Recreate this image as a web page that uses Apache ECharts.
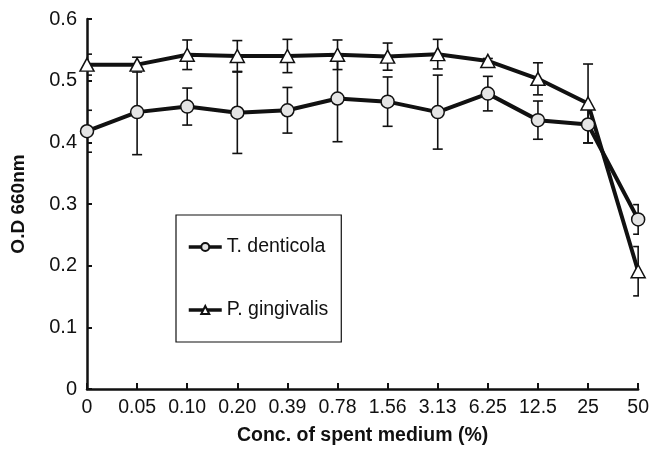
<!DOCTYPE html>
<html>
<head>
<meta charset="utf-8">
<script src="https://cdn.jsdelivr.net/npm/echarts@6/dist/echarts.min.js"></script>
<style>html,body{margin:0;padding:0;background:#fff;}#c{width:652px;height:451px;}</style>
</head>
<body>
<div id="c"></div>
<script>
var categories = ['0','0.05','0.10','0.20','0.39','0.78','1.56','3.13','6.25','12.5','25','50'];
var tdMean = [0.418,0.449,0.458,0.448,0.452,0.471,0.466,0.449,0.479,0.436,0.429,0.275];
var tdErr  = [0.034,0.069,0.030,0.066,0.037,0.070,0.040,0.060,0.028,0.031,0.030,0.024];
var pgMean = [0.526,0.526,0.542,0.540,0.540,0.542,0.539,0.543,0.532,0.503,0.463,0.191];
var pgErr  = [0.017,0.012,0.024,0.025,0.027,0.024,0.022,0.024,0.004,0.026,0.064,0.040];
var yTicks = [0,0.1,0.2,0.3,0.4,0.5,0.6];

var FONT = 'Liberation Sans, Arial, sans-serif';

function errData(mean, err){
  return mean.map(function(m,i){ return [i, m - err[i], m + err[i]]; });
}
function errRender(params, api){
  var x = api.value(0);
  var lo = api.coord([x, api.value(1)]);
  var hi = api.coord([x, api.value(2)]);
  var w = 5;
  var st = {stroke:'#111', lineWidth:1.6, fill:null};
  return {
    type:'group',
    children:[
      {type:'line', shape:{x1:hi[0],y1:hi[1],x2:lo[0],y2:lo[1]}, style:st},
      {type:'line', shape:{x1:hi[0]-w,y1:hi[1],x2:hi[0]+w,y2:hi[1]}, style:st},
      {type:'line', shape:{x1:lo[0]-w,y1:lo[1],x2:lo[0]+w,y2:lo[1]}, style:st}
    ]
  };
}

var chart = echarts.init(document.getElementById('c'));
chart.setOption({
  animation:false,
  backgroundColor:'#fff',
  textStyle:{fontFamily:FONT},
  grid:{left:87, right:11, top:19, bottom:59, containLabel:false},
  legend:{
    orient:'vertical', left:176, top:215,
    padding:[22,13,22,11],
    borderColor:'#111', borderWidth:1.2,
    itemWidth:33, itemHeight:10, itemGap:43,
    lineStyle:{width:3.5, color:'#111'},
    textStyle:{fontFamily:FONT, fontSize:19.5, color:'#111', lineHeight:20},
    data:['T. denticola','P. gingivalis']
  },
  xAxis:{
    type:'category', data:categories, boundaryGap:false,
    axisLine:{lineStyle:{color:'#111', width:2.5}},
    axisTick:{inside:true, length:6, alignWithLabel:true, interval:0, lineStyle:{color:'#111', width:2}},
    axisLabel:{interval:0, fontSize:19.5, color:'#111', margin:9, fontFamily:FONT},
    splitLine:{show:false},
    name:'Conc. of spent medium (%)', nameLocation:'middle', nameGap:37,
    nameTextStyle:{fontSize:19.5, fontWeight:'bold', color:'#111', fontFamily:FONT}
  },
  yAxis:{
    type:'value', min:0, max:0.6, interval:0.1,
    axisLine:{show:true, lineStyle:{color:'#111', width:2.5}},
    axisTick:{show:true, inside:true, length:5, lineStyle:{color:'#111', width:2}},
    axisLabel:{fontSize:20, color:'#111', margin:10, fontFamily:FONT,
      formatter:function(v){ var s = yTicks.filter(function(t){return Math.abs(t-v)<1e-9;}); return s.length? String(s[0]) : ''; }},
    splitLine:{show:false},
    name:'O.D 660nm', nameLocation:'middle', nameGap:59, nameRotate:90,
    nameTextStyle:{fontSize:19, fontWeight:'bold', color:'#111', fontFamily:FONT}
  },
  series:[
    {type:'custom', name:'errTD', renderItem:errRender, data:errData(tdMean, tdErr), clip:true, z:1, silent:true, encode:{x:0,y:[1,2]}},
    {type:'custom', name:'errPG', renderItem:errRender, data:errData(pgMean, pgErr), clip:true, z:1, silent:true, encode:{x:0,y:[1,2]}},
    {type:'line', name:'T. denticola', data:tdMean, z:3,
      symbol:'circle', symbolSize:13, showAllSymbol:true,
      lineStyle:{color:'#111', width:4},
      itemStyle:{color:'#e4e4e4', borderColor:'#111', borderWidth:1.5}},
    {type:'line', name:'P. gingivalis', data:pgMean, z:3,
      symbol:'triangle', symbolSize:[14,13], showAllSymbol:true,
      lineStyle:{color:'#111', width:4},
      itemStyle:{color:'#ffffff', borderColor:'#111', borderWidth:1.5}}
  ]
});
</script>
</body>
</html>
